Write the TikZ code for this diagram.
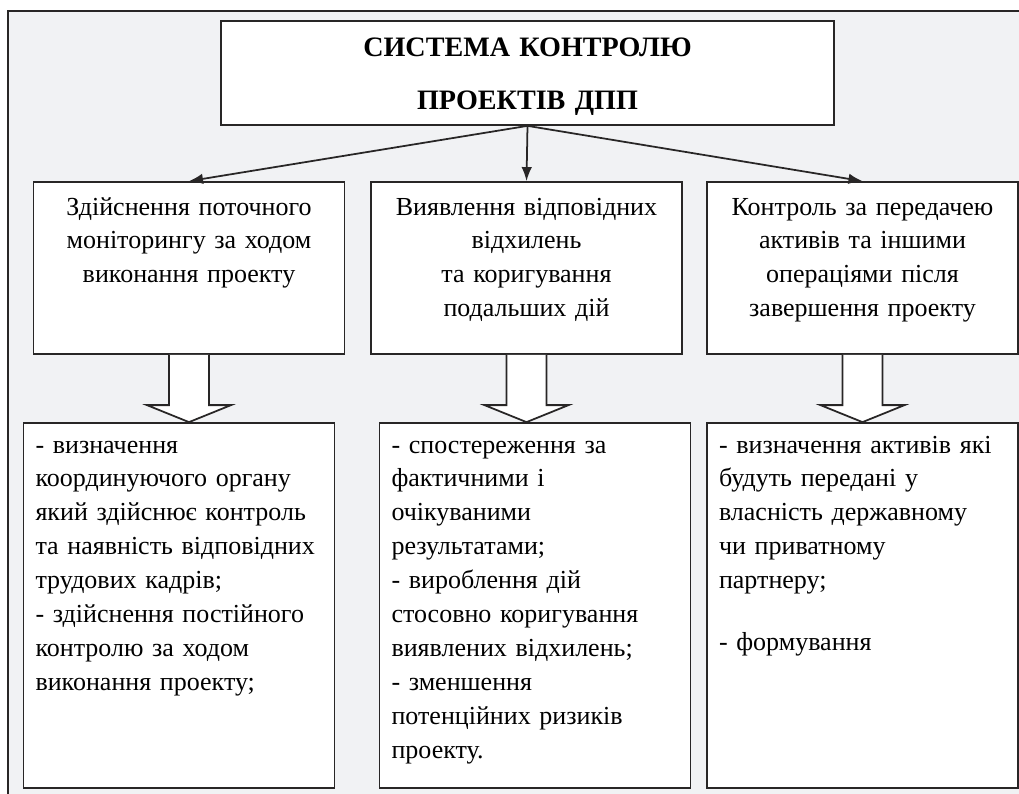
\documentclass[tikz,border=0pt]{standalone}
\usepackage{fontspec}
\setmainfont{Liberation Serif}
\usetikzlibrary{arrows.meta,calc}
\definecolor{panel}{RGB}{241,242,244}
\definecolor{ink}{RGB}{40,38,38}
\begin{document}
\begin{tikzpicture}[x=0.02cm,y=-0.02cm,
	box/.style={draw=ink,line width=1pt,fill=white,inner ysep=0pt,anchor=base},
	stage/.style={box,text width=5.9cm,inner xsep=0.16cm,align=center,text height=0.66cm,text depth=2.78cm,font=\fontsize{14.8}{19.3}\selectfont},
	tasks/.style={box,text width=5.74cm,inner xsep=0.24cm,align=left,text height=0.6cm,text depth=6.7cm,font=\fontsize{14.8}{19.3}\selectfont},
	link/.style={draw=ink,line width=1pt,-{Latex[length=8pt,width=6pt]}}]
	\clip (0,0) rectangle (1019,794);
	\draw[draw=ink,line width=1pt,fill=panel] (8,11) rectangle (1040,820);
	\node[box,text width=11.9cm,inner xsep=0.18cm,align=center,text height=0.72cm,text depth=1.36cm,font=\fontsize{16}{30}\selectfont\bfseries] (title) at (527.5,57) {СИСТЕМА КОНТРОЛЮ\\ПРОЕКТІВ ДПП};
	\node[stage] (mon) at (189,215) {Здійснення поточного\\моніторингу за ходом\\виконання проекту};
	\node[stage] (dev) at (526.5,215) {Виявлення відповідних\\відхилень\\та коригування\\подальших дій};
	\node[stage] (asset) at (862.5,215) {Контроль за передачею\\активів та іншими\\операціями після\\завершення проекту};
	\node[tasks] (monlist) at (179,453) {- визначення\\координуючого органу\\який здійснює контроль\\та наявність відповідних\\трудових кадрів;\\- здійснення постійного\\контролю за ходом\\виконання проекту;};
	\node[tasks] (devlist) at (535,453) {- спостереження за\\фактичними і\\очікуваними\\результатами;\\- вироблення дій\\стосовно коригування\\виявлених відхилень;\\- зменшення\\потенційних ризиків\\проекту.};
	\node[tasks] (assetlist) at (862.5,453) {- визначення активів які\\будуть передані у\\власність державному\\чи приватному\\партнеру;\\[0.56cm]- формування};
	\foreach \n in {mon,dev,asset}
		\draw[link] (title.south) -- (\n.north);
	\foreach \a/\b in {mon/monlist,dev/devlist,asset/assetlist}
		\draw[draw=ink,line width=1pt,fill=white] ($(\a.south)+(-20,0)$) -- ($(\a.south |- \b.north)+(-20,-17)$) -- ($(\a.south |- \b.north)+(-42,-17)$) -- (\a.south |- \b.north) -- ($(\a.south |- \b.north)+(42,-17)$) -- ($(\a.south |- \b.north)+(20,-17)$) -- ($(\a.south)+(20,0)$);
\end{tikzpicture}
\end{document}
